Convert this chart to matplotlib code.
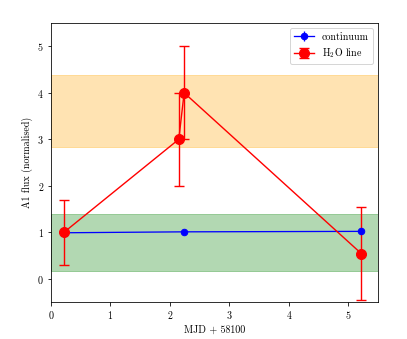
import numpy as np
import matplotlib
matplotlib.use('Agg')
import matplotlib.pyplot as plt

plt.rcParams['font.family'] = 'serif'
plt.rcParams['font.serif'] = ['cmr10', 'DejaVu Serif']
plt.rcParams['mathtext.fontset'] = 'cm'
plt.rcParams['axes.formatter.use_mathtext'] = True

# continuum points
cont_x = [0.22, 2.24, 5.22]
cont_y = [0.99, 1.01, 1.02]
cont_err = [0.02, 0.02, 0.02]

# H2O line points
line_x = [0.22, 2.15, 2.24, 5.22]
line_y = [1.0, 3.0, 4.0, 0.54]
line_err = [0.7, 1.0, 1.0, 1.0]

# shaded ranges
green_band = (0.16, 1.39)
orange_band = (2.84, 4.38)

fig = plt.figure(figsize=(407 / 72, 339 / 72), dpi=72)
ax = fig.add_axes([0.125, 0.109, 0.804, 0.823])

ax.axhspan(*orange_band, color='orange', alpha=0.3, lw=1)
ax.axhspan(*green_band, color='green', alpha=0.3, lw=1)

ax.errorbar(cont_x, cont_y, yerr=cont_err, fmt='o-', color='blue', ms=6.5, lw=1.3,
            capsize=0, label='continuum')
ax.errorbar(line_x, line_y, yerr=line_err, fmt='o-', color='red', ms=10, lw=1.4,
            capsize=5, capthick=1.4, label='H$_2$O line')

ax.set_xlim(0, 5.5)
ax.set_ylim(-0.5, 5.5)
ax.set_xlabel('MJD + 58100')
ax.set_ylabel('A1 flux (normalised)')
ax.legend(loc='upper right')

fig.savefig('out.png', dpi=72)
